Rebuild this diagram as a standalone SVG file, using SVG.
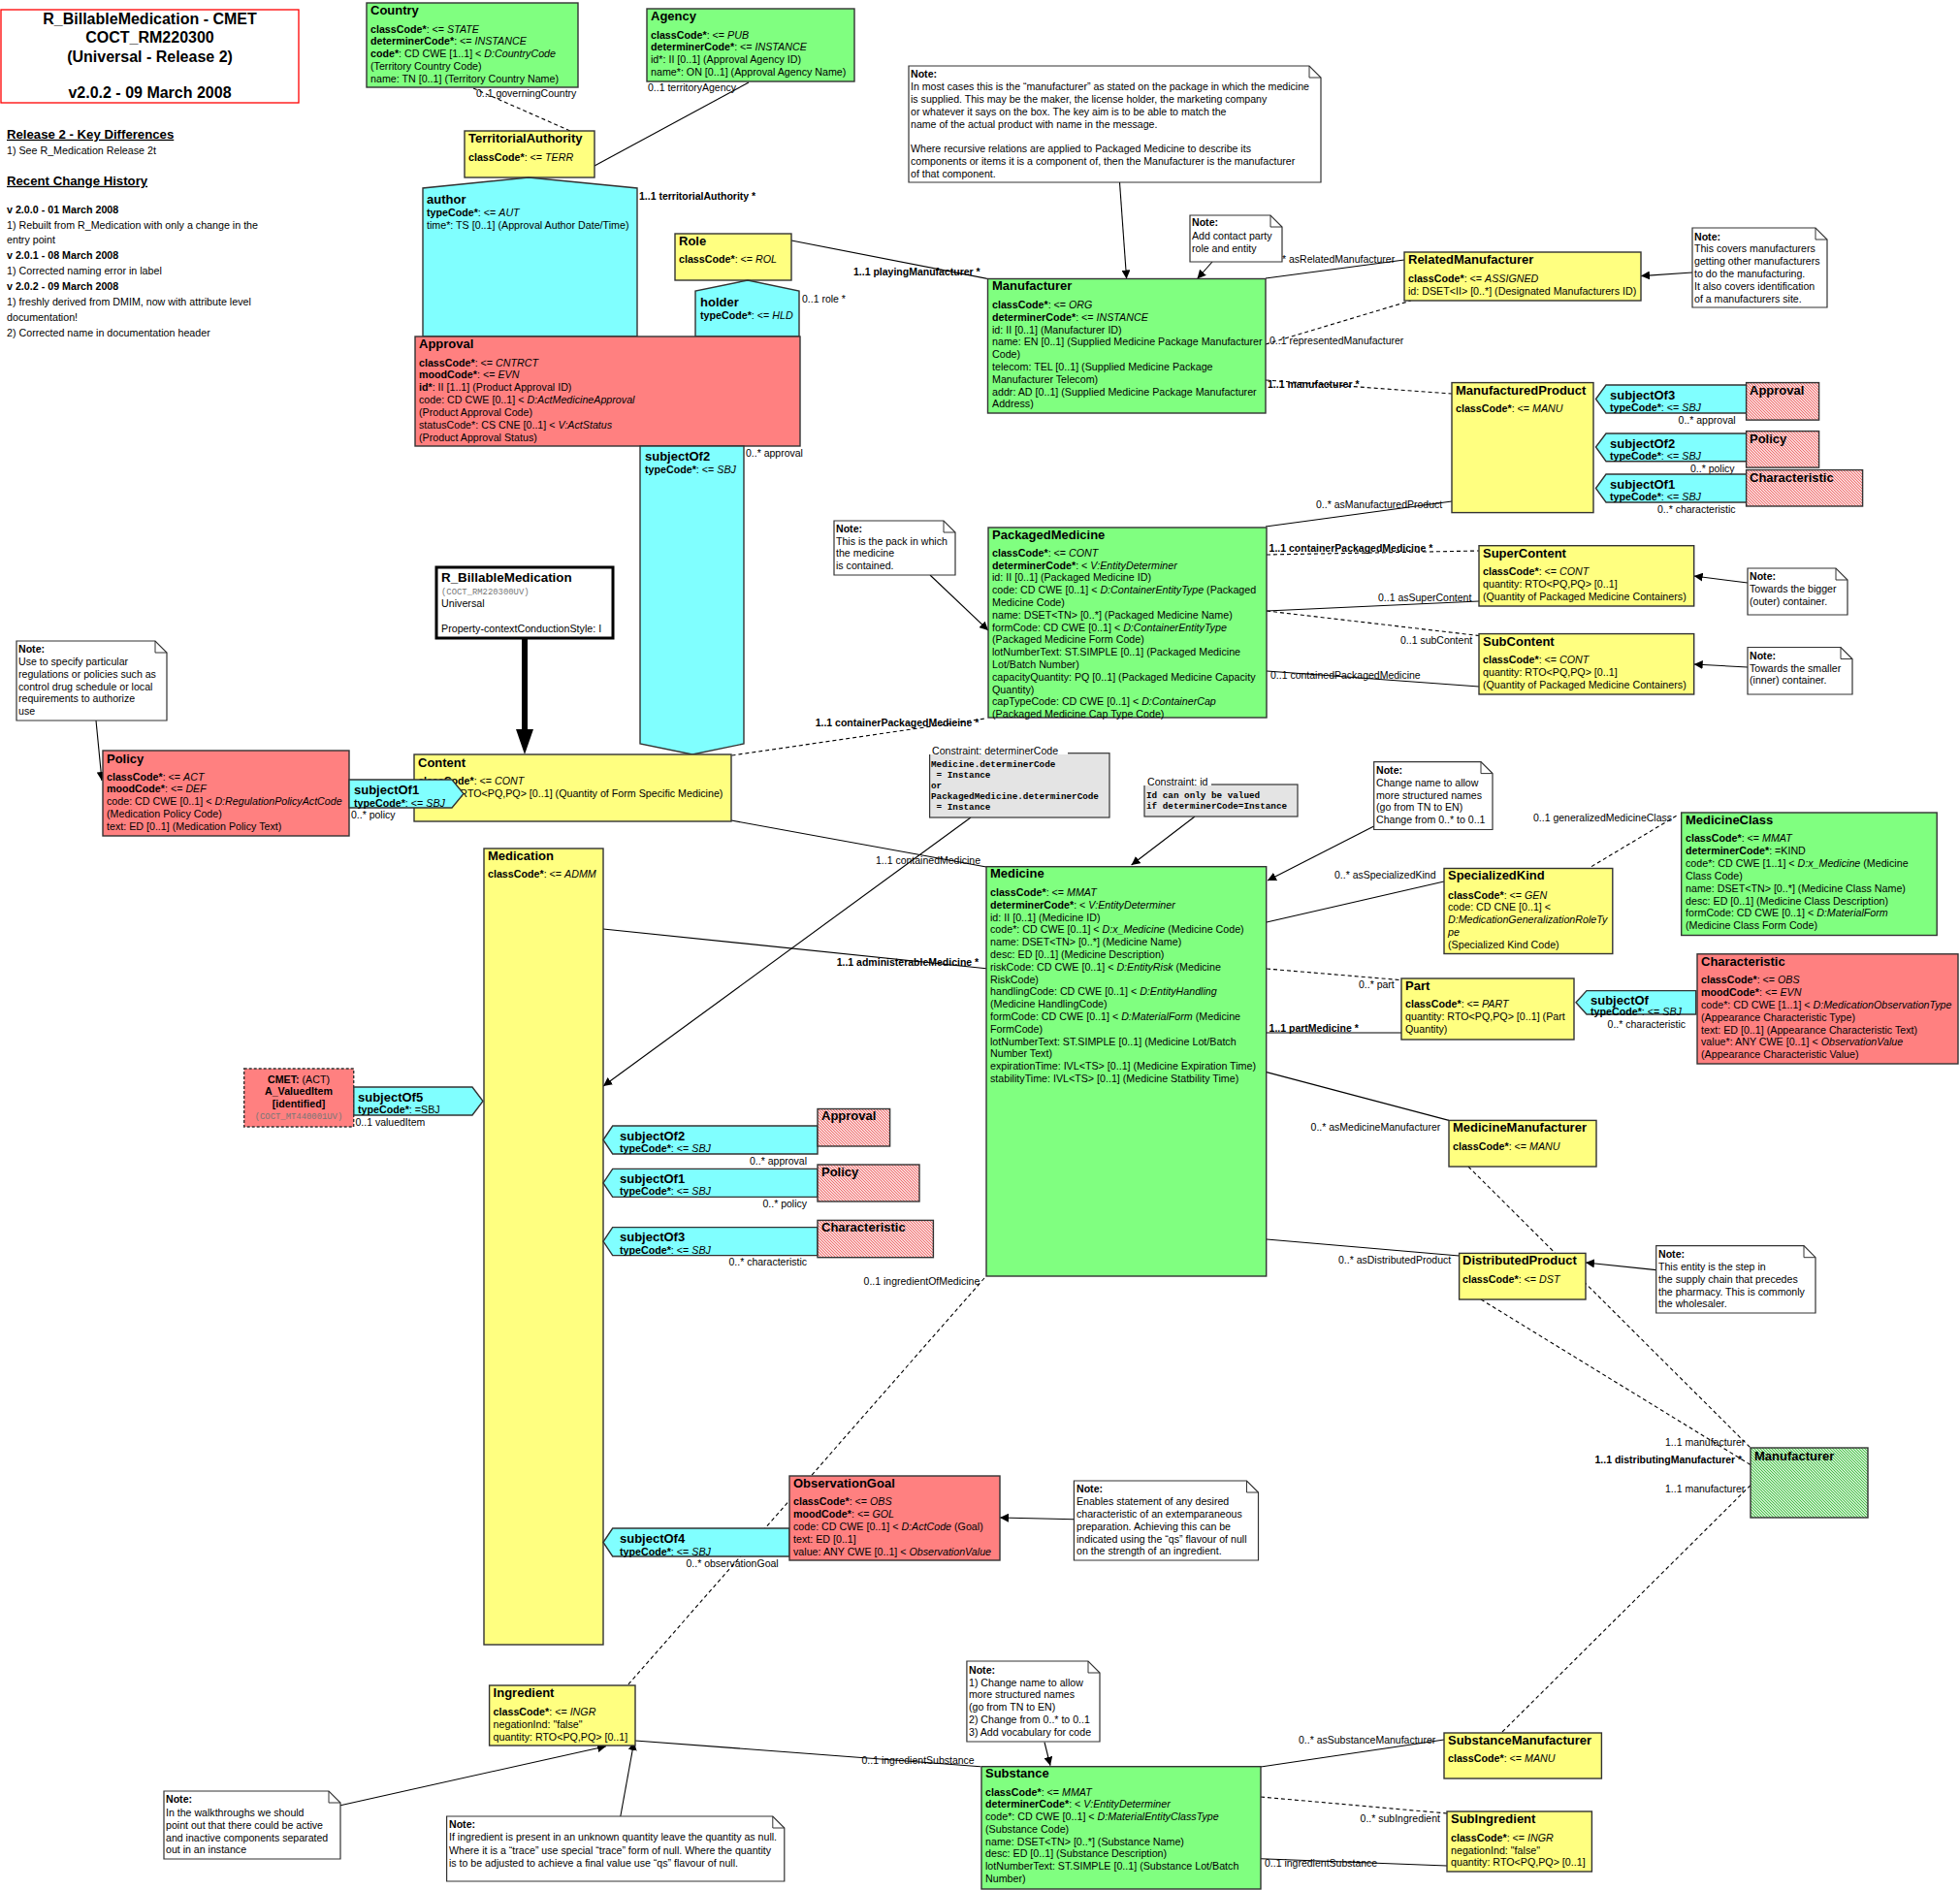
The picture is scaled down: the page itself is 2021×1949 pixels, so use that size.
<svg xmlns="http://www.w3.org/2000/svg" width="2021" height="1949" viewBox="0 0 2021 1949">
<style>
text{font-family:"Liberation Sans",Arial,sans-serif;fill:#000}
.a{font-size:10.7px}
.h{font-size:13px;font-weight:bold}
.b{font-weight:bold}
.i{font-style:italic}
.n{font-size:10.6px}
.hx{font-size:10.7px}
.hd{font-size:13.2px;font-weight:bold;text-decoration:underline}
.l{font-size:10.5px}
.lb{font-size:10.5px;font-weight:bold}
.m{font-family:"Liberation Mono","Courier New",monospace;font-size:9.3px;font-weight:bold}
.sm{font-family:"Liberation Mono","Courier New",monospace;font-size:8.9px;fill:#777}
.box{stroke:#333;stroke-width:1.4}
.g{fill:#80FF80}.y{fill:#FFFF80}.c{fill:#80FFFF}.r{fill:#FF8080}
.hr{fill:url(#hatchR)}.hg{fill:url(#hatchG)}
.note{fill:#fff;stroke:#333;stroke-width:1.2}
.con{fill:#e4e4e4;stroke:#333;stroke-width:1.2}
.ln{stroke:#000;stroke-width:1.1;fill:none}
.dl{stroke:#000;stroke-width:1.1;fill:none;stroke-dasharray:4,3}
.ar{stroke:#000;stroke-width:1.1;fill:none;marker-end:url(#arr)}
</style>
<defs>
<marker id="arr" viewBox="0 0 10 10" refX="10" refY="5" markerWidth="9" markerHeight="9" markerUnits="userSpaceOnUse" orient="auto"><path d="M0,0 L10,5 L0,10 Z" fill="#000"/></marker>
<pattern id="hatchR" patternUnits="userSpaceOnUse" width="3" height="3"><rect width="3" height="3" fill="#fff"/><path d="M-1,-1 L4,4 M-1,2 L1,4 M2,-1 L4,1" stroke="#F06A6A" stroke-width="1.1"/></pattern>
<pattern id="hatchG" patternUnits="userSpaceOnUse" width="3" height="3"><rect width="3" height="3" fill="#fff"/><path d="M-1,-1 L4,4 M-1,2 L1,4 M2,-1 L4,1" stroke="#40C040" stroke-width="1.1"/></pattern>
</defs>
<rect width="2021" height="1949" fill="#fff"/>

<g id="header">
<rect x="1" y="10" width="307" height="96" fill="#fff" stroke="#f00" stroke-width="1.3"/>
<text x="154.5" y="24.7" text-anchor="middle" style="font-size:16px;font-weight:bold">R_BillableMedication - CMET</text>
<text x="154.5" y="43.7" text-anchor="middle" style="font-size:16px;font-weight:bold">COCT_RM220300</text>
<text x="154.5" y="63.5" text-anchor="middle" style="font-size:16px;font-weight:bold">(Universal - Release 2)</text>
<text x="154.5" y="101" text-anchor="middle" style="font-size:16px;font-weight:bold">v2.0.2 - 09 March 2008</text>
<text class="hd" x="7" y="142.8">Release 2 - Key Differences</text>
<text class="hx" x="7" y="158.8">1) See R_Medication Release 2t</text>
<text class="hd" x="7" y="190.8">Recent Change History</text>
<text class="hx b" x="7" y="219.8">v 2.0.0 - 01 March 2008</text>
<text class="hx" x="7" y="235.8">1) Rebuilt from R_Medication with only a change in the</text>
<text class="hx" x="7" y="250.8">entry point</text>
<text class="hx b" x="7" y="266.8">v 2.0.1 - 08 March 2008</text>
<text class="hx" x="7" y="282.8">1) Corrected naming error in label</text>
<text class="hx b" x="7" y="298.8">v 2.0.2 - 09 March 2008</text>
<text class="hx" x="7" y="314.8">1) freshly derived from DMIM, now with attribute level</text>
<text class="hx" x="7" y="330.8">documentation!</text>
<text class="hx" x="7" y="346.8">2) Corrected name in documentation header</text>
</g>

<g id="connectors">
<line class="dl" x1="488" y1="91" x2="588" y2="135"/>
<line class="ln" x1="772" y1="85" x2="613" y2="171"/>
<line class="ln" x1="816" y1="248" x2="1018.7" y2="287.5"/>
<line class="ln" x1="1305" y1="287" x2="1448" y2="268"/>
<line class="dl" x1="1305" y1="355" x2="1455" y2="310"/>
<line class="dl" x1="1305" y1="392" x2="1497" y2="406"/>
<line class="ln" x1="1305" y1="543" x2="1497" y2="517"/>
<line class="dl" x1="1306" y1="572" x2="1525" y2="568"/>
<line class="ln" x1="1306" y1="630" x2="1525" y2="620"/>
<line class="dl" x1="1306" y1="630" x2="1525" y2="655.5"/>
<line class="ln" x1="1306" y1="692" x2="1525" y2="708"/>
<line class="dl" x1="754.5" y1="779" x2="1017.7" y2="740.7"/>
<line class="ln" x1="754" y1="846" x2="1017" y2="894"/>
<line class="ln" x1="622" y1="958" x2="1017" y2="998.7"/>
<line class="ln" x1="1306" y1="951" x2="1489" y2="909"/>
<line class="dl" x1="1641" y1="893.6" x2="1729" y2="841"/>
<line class="dl" x1="1306" y1="999" x2="1445" y2="1010.7"/>
<line class="ln" x1="1306" y1="1065" x2="1445" y2="1065"/>
<line class="ln" x1="1306" y1="1105.6" x2="1494" y2="1155.4"/>
<line class="ln" x1="1306" y1="1278" x2="1504.6" y2="1295"/>
<line class="dl" x1="1514" y1="1203" x2="1805" y2="1493"/>
<line class="dl" x1="1527" y1="1340" x2="1805" y2="1510.5"/>
<line class="dl" x1="1549" y1="1786" x2="1805" y2="1531.6"/>
<line class="dl" x1="1015" y1="1318" x2="647" y2="1738"/>
<line class="ln" x1="655" y1="1795" x2="1011" y2="1821.7"/>
<line class="ln" x1="1300" y1="1822" x2="1489" y2="1794"/>
<line class="dl" x1="1300" y1="1853" x2="1492" y2="1870"/>
<line class="ln" x1="1300" y1="1916.7" x2="1492" y2="1924"/>
<line class="ar" x1="99" y1="743" x2="105" y2="805"/>
<line class="ar" x1="959" y1="593" x2="1019" y2="650"/>
<line class="ar" x1="1154.5" y1="188" x2="1161.6" y2="287.5"/>
<line class="ar" x1="1250" y1="270" x2="1234.5" y2="287.5"/>
<line class="ar" x1="1745" y1="281" x2="1692" y2="284.6"/>
<line class="ar" x1="1802" y1="601" x2="1746.7" y2="594"/>
<line class="ar" x1="1802" y1="688" x2="1746.7" y2="685"/>
<line class="ar" x1="1232" y1="842" x2="1166.6" y2="892"/>
<line class="ar" x1="1416.7" y1="852" x2="1307" y2="908"/>
<line class="ar" x1="1707.7" y1="1309.6" x2="1635" y2="1302"/>
<line class="ar" x1="1107.4" y1="1566.8" x2="1031" y2="1565"/>
<line class="ar" x1="351" y1="1861.7" x2="625" y2="1800.7"/>
<line class="ar" x1="639.8" y1="1873" x2="653.8" y2="1796"/>
<line class="ar" x1="1077" y1="1796.7" x2="1083" y2="1820.7"/>
<line class="ar" x1="1001" y1="843" x2="622" y2="1120"/>
<line x1="541" y1="658" x2="541" y2="753" stroke="#000" stroke-width="6"/>
<polygon points="532,752 550,752 541,778" fill="#000"/>
<text class="l" x="491" y="100.3">0..1 governingCountry</text>
<text class="l" x="668" y="93.6">0..1 territoryAgency</text>
<text class="lb" x="659" y="205.6">1..1 territorialAuthority  *</text>
<text class="lb" x="880" y="283.6">1..1 playingManufacturer  *</text>
<text class="l" x="827" y="311.6">0..1 role  *</text>
<text class="l" x="769" y="470.6">0..* approval</text>
<text class="l" x="1322" y="270.6">* asRelatedManufacturer</text>
<text class="l" x="1309" y="354.6">0..1 representedManufacturer</text>
<text class="lb" x="1307" y="399.6">1..1 manufacturer  *</text>
<text class="l" x="1357" y="523.6">0..* asManufacturedProduct</text>
<text class="lb" x="1308.6" y="569.2">1..1 containerPackagedMedicine  *</text>
<text class="l" x="1421" y="619.6">0..1 asSuperContent</text>
<text class="l" x="1444" y="663.6">0..1 subContent</text>
<text class="l" x="1310" y="700">0..1 containedPackagedMedicine</text>
<text class="lb" x="840.7" y="749.3">1..1 containerPackagedMedicine  *</text>
<text class="l" x="903" y="890.6">1..1 containedMedicine</text>
<text class="lb" x="862.7" y="995.6">1..1 administerableMedicine  *</text>
<text class="l" x="1376" y="905.6">0..* asSpecializedKind</text>
<text class="l" x="1581" y="847">0..1 generalizedMedicineClass</text>
<text class="l" x="1401" y="1019">0..* part</text>
<text class="lb" x="1308.6" y="1063.6">1..1 partMedicine  *</text>
<text class="l" x="1351.6" y="1165.6">0..* asMedicineManufacturer</text>
<text class="l" x="1380" y="1302.6">0..* asDistributedProduct</text>
<text class="l" x="1717" y="1490.6">1..1 manufacturer</text>
<text class="lb" x="1644.5" y="1508.6">1..1 distributingManufacturer  *</text>
<text class="l" x="1717" y="1539">1..1 manufacturer</text>
<text class="l" x="890.6" y="1324.6">0..1 ingredientOfMedicine</text>
<text class="l" x="888.5" y="1819.3">0..1 ingredientSubstance</text>
<text class="l" x="1339" y="1797.6">0..* asSubstanceManufacturer</text>
<text class="l" x="1402.6" y="1878.6">0..* subIngredient</text>
<text class="l" x="1304" y="1924.6">0..1 ingredientSubstance</text>
<text class="l" x="362" y="843.6">0..* policy</text>
<text class="l" x="366.5" y="1160.6">0..1 valuedItem</text>
<text class="l" x="832" y="1200.6" text-anchor="end">0..* approval</text>
<text class="l" x="832" y="1244.6" text-anchor="end">0..* policy</text>
<text class="l" x="832" y="1305.4" text-anchor="end">0..* characteristic</text>
<text class="l" x="707.5" y="1615.6">0..* observationGoal</text>
<text class="l" x="1730.6" y="436.6">0..* approval</text>
<text class="l" x="1743" y="486.6">0..* policy</text>
<text class="l" x="1709" y="528.6">0..* characteristic</text>
<text class="l" x="1657.6" y="1059.6">0..* characteristic</text>
</g>

<g id="n-country">
<rect class="box g" x="378" y="3" width="218" height="87"/>
<text class="h" x="382" y="14.5">Country</text>
<text class="a" x="382" y="33.5"><tspan class="b">classCode*</tspan>: &lt;= <tspan class="i">STATE</tspan></text>
<text class="a" x="382" y="46.3"><tspan class="b">determinerCode*</tspan>: &lt;= <tspan class="i">INSTANCE</tspan></text>
<text class="a" x="382" y="59.2"><tspan class="b">code*</tspan>: CD CWE [1..1] &lt; <tspan class="i">D:CountryCode</tspan></text>
<text class="a" x="382" y="72">(Territory Country Code)</text>
<text class="a" x="382" y="84.9">name: TN [0..1] (Territory Country Name)</text>
</g>

<g id="n-agency">
<rect class="box g" x="667" y="9" width="214" height="75"/>
<text class="h" x="671" y="21">Agency</text>
<text class="a" x="671" y="39.5"><tspan class="b">classCode*</tspan>: &lt;= <tspan class="i">PUB</tspan></text>
<text class="a" x="671" y="52.3"><tspan class="b">determinerCode*</tspan>: &lt;= <tspan class="i">INSTANCE</tspan></text>
<text class="a" x="671" y="65.2">id*: II [0..1] (Approval Agency ID)</text>
<text class="a" x="671" y="78">name*: ON [0..1] (Approval Agency Name)</text>
</g>

<g id="n-territorialauthority">
<rect class="box y" x="479" y="135" width="134" height="48"/>
<text class="h" x="483" y="147">TerritorialAuthority</text>
<text class="a" x="483" y="166"><tspan class="b">classCode*</tspan>: &lt;= <tspan class="i">TERR</tspan></text>
</g>

<g id="n-author">
<polygon class="box c" points="436,347 436,194 545,183 657,194 657,347"/>
<text class="h" x="440" y="209.5">author</text>
<text class="a" x="440" y="223"><tspan class="b">typeCode*</tspan>: &lt;= <tspan class="i">AUT</tspan></text>
<text class="a" x="440" y="236">time*: TS [0..1] (Approval Author Date/Time)</text>
</g>

<g id="n-role">
<rect class="box y" x="696" y="241" width="120" height="48"/>
<text class="h" x="700" y="253">Role</text>
<text class="a" x="700" y="271"><tspan class="b">classCode*</tspan>: &lt;= <tspan class="i">ROL</tspan></text>
</g>

<g id="n-holder">
<polygon class="box c" points="717,347 717,300 771,289 824,300 824,347"/>
<text class="h" x="722" y="315.5">holder</text>
<text class="a" x="722" y="329"><tspan class="b">typeCode*</tspan>: &lt;= <tspan class="i">HLD</tspan></text>
</g>

<g id="n-approval">
<rect class="box r" x="428" y="347" width="397" height="113"/>
<text class="h" x="432" y="358.5">Approval</text>
<text class="a" x="432" y="377.5"><tspan class="b">classCode*</tspan>: &lt;= <tspan class="i">CNTRCT</tspan></text>
<text class="a" x="432" y="390.3"><tspan class="b">moodCode*</tspan>: &lt;= <tspan class="i">EVN</tspan></text>
<text class="a" x="432" y="403.2"><tspan class="b">id*</tspan>: II [1..1] (Product Approval ID)</text>
<text class="a" x="432" y="416">code: CD CWE [0..1] &lt; <tspan class="i">D:ActMedicineApproval</tspan></text>
<text class="a" x="432" y="428.9"> (Product Approval Code)</text>
<text class="a" x="432" y="441.8">statusCode*: CS CNE [0..1] &lt; <tspan class="i">V:ActStatus</tspan></text>
<text class="a" x="432" y="454.6"> (Product Approval Status)</text>
</g>

<g id="n-subjectof2-approval">
<polygon class="box c" points="660,460 767,460 767,767 714,778 660,767"/>
<text class="h" x="665" y="474.5">subjectOf2</text>
<text class="a" x="665" y="488"><tspan class="b">typeCode*</tspan>: &lt;= <tspan class="i">SBJ</tspan></text>
</g>

<g id="n-entry">
<rect x="450" y="585" width="182" height="73" fill="#fff" stroke="#000" stroke-width="3"/>
<text class="h" x="455" y="599.5" style="font-size:13.4px">R_BillableMedication</text>
<text class="sm" x="455" y="612.5">(COCT_RM220300UV)</text>
<text class="a" x="455" y="626">Universal</text>
<text class="a" x="455" y="652">Property-contextConductionStyle: I</text>
</g>

<g id="n-content">
<rect class="box y" x="427" y="778" width="327" height="69"/>
<text class="h" x="431" y="790.5">Content</text>
<text class="a" x="431" y="809"><tspan class="b">classCode*</tspan>: &lt;= <tspan class="i">CONT</tspan></text>
<text class="a" x="431" y="822">quantity: RTO&lt;PQ,PQ&gt; [0..1] (Quantity of Form Specific Medicine)</text>
</g>

<g id="n-policy">
<rect class="box r" x="106" y="774" width="254" height="88"/>
<text class="h" x="110" y="786.5">Policy</text>
<text class="a" x="110" y="804.5"><tspan class="b">classCode*</tspan>: &lt;= <tspan class="i">ACT</tspan></text>
<text class="a" x="110" y="817.4"><tspan class="b">moodCode*</tspan>: &lt;= <tspan class="i">DEF</tspan></text>
<text class="a" x="110" y="830.2">code: CD CWE [0..1] &lt; <tspan class="i">D:RegulationPolicyActCode</tspan></text>
<text class="a" x="110" y="843"> (Medication Policy Code)</text>
<text class="a" x="110" y="855.9">text: ED [0..1] (Medication Policy Text)</text>
</g>

<g id="n-subjectof1-policy">
<polygon class="box c" points="360,804 466,804 478,818.5 466,833 360,833"/>
<text class="h" x="365" y="818.5">subjectOf1</text>
<text class="a" x="365" y="832"><tspan class="b">typeCode*</tspan>: &lt;= <tspan class="i">SBJ</tspan></text>
</g>

<g id="note-policy">
<path class="note" d="M17,661 H160 L172,673 V743 H17 Z"/>
<path d="M160,661 V673 H172" fill="none" stroke="#333" stroke-width="1"/>
<text class="n b" x="19" y="672.6">Note:</text>
<text class="n" x="19" y="685.6">Use to specify particular</text>
<text class="n" x="19" y="698.6">regulations or policies such as</text>
<text class="n" x="19" y="711.6">control drug schedule or local</text>
<text class="n" x="19" y="723.6">requirements to authorize</text>
<text class="n" x="19" y="736.6">use</text>
</g>

<g id="note-pack">
<path class="note" d="M860,537 H973 L985,549 V593 H860 Z"/>
<path d="M973,537 V549 H985" fill="none" stroke="#333" stroke-width="1"/>
<text class="n b" x="862" y="548.6">Note:</text>
<text class="n" x="862" y="561.6">This is the pack in which</text>
<text class="n" x="862" y="573.6">the medicine</text>
<text class="n" x="862" y="586.6">is contained.</text>
</g>

<g id="n-packagedmedicine">
<rect class="box g" x="1019" y="544" width="287" height="196"/>
<text class="h" x="1023" y="555.5">PackagedMedicine</text>
<text class="a" x="1023" y="573.8"><tspan class="b">classCode*</tspan>: &lt;= <tspan class="i">CONT</tspan></text>
<text class="a" x="1023" y="586.6"><tspan class="b">determinerCode*</tspan>: &lt; <tspan class="i">V:EntityDeterminer</tspan></text>
<text class="a" x="1023" y="599.4">id: II [0..1] (Packaged Medicine ID)</text>
<text class="a" x="1023" y="612.2">code: CD CWE [0..1] &lt; <tspan class="i">D:ContainerEntityType</tspan> (Packaged</text>
<text class="a" x="1023" y="625">Medicine Code)</text>
<text class="a" x="1023" y="637.8">name: DSET&lt;TN&gt; [0..*] (Packaged Medicine Name)</text>
<text class="a" x="1023" y="650.6">formCode: CD CWE [0..1] &lt; <tspan class="i">D:ContainerEntityType</tspan></text>
<text class="a" x="1023" y="663.4"> (Packaged Medicine Form Code)</text>
<text class="a" x="1023" y="676.2">lotNumberText: ST.SIMPLE [0..1] (Packaged Medicine</text>
<text class="a" x="1023" y="689">Lot/Batch Number)</text>
<text class="a" x="1023" y="701.8">capacityQuantity: PQ [0..1] (Packaged Medicine Capacity</text>
<text class="a" x="1023" y="714.6">Quantity)</text>
<text class="a" x="1023" y="727.4">capTypeCode: CD CWE [0..1] &lt; <tspan class="i">D:ContainerCap</tspan></text>
<text class="a" x="1023" y="740.2"> (Packaged Medicine Cap Type Code)</text>
</g>

<g id="n-manufacturer">
<rect class="box g" x="1018.5" y="287.5" width="286.5" height="138.5"/>
<text class="h" x="1023" y="299">Manufacturer</text>
<text class="a" x="1023" y="318"><tspan class="b">classCode*</tspan>: &lt;= <tspan class="i">ORG</tspan></text>
<text class="a" x="1023" y="330.8"><tspan class="b">determinerCode*</tspan>: &lt;= <tspan class="i">INSTANCE</tspan></text>
<text class="a" x="1023" y="343.6">id: II [0..1] (Manufacturer ID)</text>
<text class="a" x="1023" y="356.4">name: EN [0..1] (Supplied Medicine Package Manufacturer</text>
<text class="a" x="1023" y="369.2">Code)</text>
<text class="a" x="1023" y="382">telecom: TEL [0..1] (Supplied Medicine Package</text>
<text class="a" x="1023" y="394.8">Manufacturer Telecom)</text>
<text class="a" x="1023" y="407.6">addr: AD [0..1] (Supplied Medicine Package Manufacturer</text>
<text class="a" x="1023" y="420.4">Address)</text>
</g>

<g id="note-manufacturer">
<path class="note" d="M937,68 H1350 L1362,80 V188 H937 Z"/>
<path d="M1350,68 V80 H1362" fill="none" stroke="#333" stroke-width="1"/>
<text class="n b" x="939" y="79.6">Note:</text>
<text class="n" x="939" y="92.6">In most cases this is the “manufacturer” as  stated on the package in which the medicine</text>
<text class="n" x="939" y="106">is supplied.  This may be the maker, the license holder, the marketing company</text>
<text class="n" x="939" y="118.6">or whatever it says on the box.  The key aim is to be able to match the</text>
<text class="n" x="939" y="131.6">name of the actual product with name in the message.</text>
<text class="n" x="939" y="157">Where recursive relations are applied to Packaged Medicine to describe its</text>
<text class="n" x="939" y="169.6">components or items it is a component of, then the Manufacturer is the manufacturer</text>
<text class="n" x="939" y="182.6">of that component.</text>
</g>

<g id="note-contact">
<path class="note" d="M1227,222 H1310 L1322,234 V270 H1227 Z"/>
<path d="M1310,222 V234 H1322" fill="none" stroke="#333" stroke-width="1"/>
<text class="n b" x="1229" y="233">Note:</text>
<text class="n" x="1229" y="246.6">Add contact party</text>
<text class="n" x="1229" y="259.6">role and entity</text>
</g>

<g id="n-relatedmanufacturer">
<rect class="box y" x="1448" y="260" width="244" height="50"/>
<text class="h" x="1452" y="271.5">RelatedManufacturer</text>
<text class="a" x="1452" y="291"><tspan class="b">classCode*</tspan>: &lt;= <tspan class="i">ASSIGNED</tspan></text>
<text class="a" x="1452" y="303.5">id: DSET&lt;II&gt; [0..*] (Designated Manufacturers ID)</text>
</g>

<g id="note-related">
<path class="note" d="M1745,235 H1872 L1884,247 V317 H1745 Z"/>
<path d="M1872,235 V247 H1884" fill="none" stroke="#333" stroke-width="1"/>
<text class="n b" x="1747" y="247.6">Note:</text>
<text class="n" x="1747" y="260">This covers manufacturers</text>
<text class="n" x="1747" y="272.6">getting other manufacturers</text>
<text class="n" x="1747" y="285.6">to do the manufacturing.</text>
<text class="n" x="1747" y="298.6">It also covers identification</text>
<text class="n" x="1747" y="311.6">of a manufacturers site.</text>
</g>

<g id="n-manufacturedproduct">
<rect class="box y" x="1497" y="394.6" width="146" height="134"/>
<text class="h" x="1501" y="406.5">ManufacturedProduct</text>
<text class="a" x="1501" y="425"><tspan class="b">classCode*</tspan>: &lt;= <tspan class="i">MANU</tspan></text>
</g>

<g id="n-mp-subjectof3">
<polygon class="box c" points="1645.5,411.5 1656,397 1801,397 1801,426 1656,426"/>
<text class="h" x="1660" y="411.5">subjectOf3</text>
<text class="a" x="1660" y="424"><tspan class="b">typeCode*</tspan>: &lt;= <tspan class="i">SBJ</tspan></text>
</g>
<g id="n-mp-approval">
<rect class="box hr" x="1800.6" y="394.6" width="75" height="38.5"/>
<text class="h" x="1804" y="406.5">Approval</text>
</g>
<g id="n-mp-subjectof2">
<polygon class="box c" points="1645.5,461 1656,447 1801,447 1801,475.7 1656,475.7"/>
<text class="h" x="1660" y="461.5">subjectOf2</text>
<text class="a" x="1660" y="474"><tspan class="b">typeCode*</tspan>: &lt;= <tspan class="i">SBJ</tspan></text>
</g>
<g id="n-mp-policy">
<rect class="box hr" x="1800.6" y="444.6" width="75" height="37.5"/>
<text class="h" x="1804" y="456.5">Policy</text>
</g>
<g id="n-mp-subjectof1">
<polygon class="box c" points="1645.5,503.5 1656,489 1801,489 1801,518 1656,518"/>
<text class="h" x="1660" y="503.5">subjectOf1</text>
<text class="a" x="1660" y="516.3"><tspan class="b">typeCode*</tspan>: &lt;= <tspan class="i">SBJ</tspan></text>
</g>
<g id="n-mp-characteristic">
<rect class="box hr" x="1800.6" y="484.6" width="120" height="37.4"/>
<text class="h" x="1804" y="496.5">Characteristic</text>
</g>

<g id="n-supercontent">
<rect class="box y" x="1525" y="562.7" width="221.7" height="62.3"/>
<text class="h" x="1529" y="574.5">SuperContent</text>
<text class="a" x="1529" y="593"><tspan class="b">classCode*</tspan>: &lt;= <tspan class="i">CONT</tspan></text>
<text class="a" x="1529" y="606">quantity: RTO&lt;PQ,PQ&gt; [0..1]</text>
<text class="a" x="1529" y="619"> (Quantity of Packaged Medicine Containers)</text>
</g>

<g id="n-subcontent">
<rect class="box y" x="1525" y="653.6" width="221.7" height="62.4"/>
<text class="h" x="1529" y="665.5">SubContent</text>
<text class="a" x="1529" y="684"><tspan class="b">classCode*</tspan>: &lt;= <tspan class="i">CONT</tspan></text>
<text class="a" x="1529" y="697">quantity: RTO&lt;PQ,PQ&gt; [0..1]</text>
<text class="a" x="1529" y="710"> (Quantity of Packaged Medicine Containers)</text>
</g>

<g id="note-bigger">
<path class="note" d="M1802,586 H1893 L1905,598 V634 H1802 Z"/>
<path d="M1893,586 V598 H1905" fill="none" stroke="#333" stroke-width="1"/>
<text class="n b" x="1804" y="597.6">Note:</text>
<text class="n" x="1804" y="610.6">Towards the bigger</text>
<text class="n" x="1804" y="623.6">(outer) container.</text>
</g>

<g id="note-smaller">
<path class="note" d="M1802,667.5 H1898 L1910,679.5 V716 H1802 Z"/>
<path d="M1898,667.5 V679.5 H1910" fill="none" stroke="#333" stroke-width="1"/>
<text class="n b" x="1804" y="679.6">Note:</text>
<text class="n" x="1804" y="692.6">Towards the smaller</text>
<text class="n" x="1804" y="705">(inner) container.</text>
</g>

<g id="constraint-determiner">
<rect class="con" x="958.6" y="776.7" width="185.4" height="66.3"/>
<rect x="957" y="768" width="144" height="10" fill="#fff"/>
<text class="n" x="961" y="778">Constraint: determinerCode</text>
<text class="m" x="960" y="790.7">Medicine.determinerCode</text>
<text class="m" x="960" y="802" xml:space="preserve"> = Instance</text>
<text class="m" x="960" y="813">or</text>
<text class="m" x="960" y="824">PackagedMedicine.determinerCode</text>
<text class="m" x="960" y="835" xml:space="preserve"> = Instance</text>
</g>

<g id="constraint-id">
<rect class="con" x="1180" y="809" width="158" height="33"/>
<rect x="1179" y="800" width="70" height="10" fill="#fff"/>
<text class="n" x="1183" y="810">Constraint: id</text>
<text class="m" x="1182" y="823">Id can only be valued</text>
<text class="m" x="1182" y="834">if determinerCode=Instance</text>
</g>

<g id="n-medicine">
<rect class="box g" x="1017" y="893.7" width="288.7" height="422.3"/>
<text class="h" x="1021" y="905">Medicine</text>
<text class="a" x="1021" y="924"><tspan class="b">classCode*</tspan>: &lt;= <tspan class="i">MMAT</tspan></text>
<text class="a" x="1021" y="936.8"><tspan class="b">determinerCode*</tspan>: &lt; <tspan class="i">V:EntityDeterminer</tspan></text>
<text class="a" x="1021" y="949.6">id: II [0..1] (Medicine ID)</text>
<text class="a" x="1021" y="962.4">code*: CD CWE [0..1] &lt; <tspan class="i">D:x_Medicine</tspan> (Medicine Code)</text>
<text class="a" x="1021" y="975.2">name: DSET&lt;TN&gt; [0..*] (Medicine Name)</text>
<text class="a" x="1021" y="988">desc: ED [0..1] (Medicine Description)</text>
<text class="a" x="1021" y="1000.8">riskCode: CD CWE [0..1] &lt; <tspan class="i">D:EntityRisk</tspan> (Medicine</text>
<text class="a" x="1021" y="1013.6">RiskCode)</text>
<text class="a" x="1021" y="1026.4">handlingCode: CD CWE [0..1] &lt; <tspan class="i">D:EntityHandling</tspan></text>
<text class="a" x="1021" y="1039.2">(Medicine HandlingCode)</text>
<text class="a" x="1021" y="1052">formCode: CD CWE [0..1] &lt; <tspan class="i">D:MaterialForm</tspan> (Medicine</text>
<text class="a" x="1021" y="1064.8">FormCode)</text>
<text class="a" x="1021" y="1077.6">lotNumberText: ST.SIMPLE [0..1] (Medicine Lot/Batch</text>
<text class="a" x="1021" y="1090.4">Number Text)</text>
<text class="a" x="1021" y="1103.2">expirationTime: IVL&lt;TS&gt; [0..1] (Medicine Expiration Time)</text>
<text class="a" x="1021" y="1116">stabilityTime: IVL&lt;TS&gt; [0..1] (Medicine Statbility Time)</text>
</g>

<g id="note-changename">
<path class="note" d="M1416.7,785.6 H1527 L1539,797.6 V855.5 H1416.7 Z"/>
<path d="M1527,785.6 V797.6 H1539" fill="none" stroke="#333" stroke-width="1"/>
<text class="n b" x="1419" y="797.6">Note:</text>
<text class="n" x="1419" y="811">Change name to allow</text>
<text class="n" x="1419" y="823.6">more structured names</text>
<text class="n" x="1419" y="836">(go from TN to EN)</text>
<text class="n" x="1419" y="849">Change from 0..* to 0..1</text>
</g>

<g id="n-specializedkind">
<rect class="box y" x="1489" y="895.5" width="173.8" height="88"/>
<text class="h" x="1493" y="907">SpecializedKind</text>
<text class="a" x="1493" y="926.5"><tspan class="b">classCode*</tspan>: &lt;= <tspan class="i">GEN</tspan></text>
<text class="a" x="1493" y="939.3">code: CD CNE [0..1] &lt;</text>
<text class="a i" x="1493" y="952">D:MedicationGeneralizationRoleTy</text>
<text class="a i" x="1493" y="965">pe</text>
<text class="a" x="1493" y="977.6"> (Specialized Kind Code)</text>
</g>

<g id="n-medicineclass">
<rect class="box g" x="1733.7" y="838" width="263.5" height="126.5"/>
<text class="h" x="1738" y="850">MedicineClass</text>
<text class="a" x="1738" y="868.3"><tspan class="b">classCode*</tspan>: &lt;= <tspan class="i">MMAT</tspan></text>
<text class="a" x="1738" y="881.2"><tspan class="b">determinerCode*</tspan>: =KIND</text>
<text class="a" x="1738" y="894">code*: CD CWE [1..1] &lt; <tspan class="i">D:x_Medicine</tspan> (Medicine</text>
<text class="a" x="1738" y="906.9">Class Code)</text>
<text class="a" x="1738" y="919.7">name: DSET&lt;TN&gt; [0..*] (Medicine Class Name)</text>
<text class="a" x="1738" y="932.6">desc: ED [0..1] (Medicine Class Description)</text>
<text class="a" x="1738" y="945.4">formCode: CD CWE [0..1] &lt; <tspan class="i">D:MaterialForm</tspan></text>
<text class="a" x="1738" y="958.3"> (Medicine Class Form Code)</text>
</g>

<g id="n-part">
<rect class="box y" x="1445" y="1009" width="178" height="63"/>
<text class="h" x="1449" y="1020.5">Part</text>
<text class="a" x="1449" y="1039.3"><tspan class="b">classCode*</tspan>: &lt;= <tspan class="i">PART</tspan></text>
<text class="a" x="1449" y="1052.3">quantity: RTO&lt;PQ,PQ&gt; [0..1] (Part</text>
<text class="a" x="1449" y="1065.4">Quantity)</text>
</g>

<g id="n-part-subjectof">
<polygon class="box c" points="1625,1033.8 1636,1021.6 1748.7,1021.6 1748.7,1046 1636,1046"/>
<text class="h" x="1640" y="1035.5">subjectOf</text>
<text class="a" x="1640" y="1047.3"><tspan class="b">typeCode*</tspan>: &lt;= <tspan class="i">SBJ</tspan></text>
</g>

<g id="n-characteristic">
<rect class="box r" x="1750" y="983.8" width="269" height="113.2"/>
<text class="h" x="1754" y="995.5">Characteristic</text>
<text class="a" x="1754" y="1014"><tspan class="b">classCode*</tspan>: &lt;= <tspan class="i">OBS</tspan></text>
<text class="a" x="1754" y="1027"><tspan class="b">moodCode*</tspan>: &lt;= <tspan class="i">EVN</tspan></text>
<text class="a" x="1754" y="1040">code*: CD CWE [1..1] &lt; <tspan class="i">D:MedicationObservationType</tspan></text>
<text class="a" x="1754" y="1053"> (Appearance Characteristic Type)</text>
<text class="a" x="1754" y="1065.5">text: ED [0..1] (Appearance Characteristic Text)</text>
<text class="a" x="1754" y="1078">value*: ANY CWE [0..1] &lt; <tspan class="i">ObservationValue</tspan></text>
<text class="a" x="1754" y="1091"> (Appearance Characteristic Value)</text>
</g>

<g id="n-medicinemanufacturer">
<rect class="box y" x="1494" y="1155.4" width="152" height="47.6"/>
<text class="h" x="1498" y="1167">MedicineManufacturer</text>
<text class="a" x="1498" y="1186"><tspan class="b">classCode*</tspan>: &lt;= <tspan class="i">MANU</tspan></text>
</g>

<g id="n-distributedproduct">
<rect class="box y" x="1504.6" y="1292.4" width="130.4" height="47.6"/>
<text class="h" x="1508" y="1304">DistributedProduct</text>
<text class="a" x="1508" y="1323"><tspan class="b">classCode*</tspan>: &lt;= <tspan class="i">DST</tspan></text>
</g>

<g id="note-distributed">
<path class="note" d="M1707.7,1284.7 H1860 L1872,1296.7 V1354 H1707.7 Z"/>
<path d="M1860,1284.7 V1296.7 H1872" fill="none" stroke="#333" stroke-width="1"/>
<text class="n b" x="1710" y="1296.6">Note:</text>
<text class="n" x="1710" y="1309.6">This entity is the step in</text>
<text class="n" x="1710" y="1322.6">the supply chain that precedes</text>
<text class="n" x="1710" y="1335.6">the pharmacy.  This is commonly</text>
<text class="n" x="1710" y="1348">the wholesaler.</text>
</g>

<g id="n-manufacturer2">
<rect class="box hg" x="1805" y="1493" width="121" height="72"/>
<text class="h" x="1809" y="1505.5">Manufacturer</text>
</g>

<g id="n-medication">
<rect class="box y" x="499" y="875" width="123" height="821"/>
<text class="h" x="503" y="886.5">Medication</text>
<text class="a" x="503" y="905"><tspan class="b">classCode*</tspan>: &lt;= <tspan class="i">ADMM</tspan></text>
</g>

<g id="n-valueditem">
<rect class="box r" x="251.7" y="1102" width="113" height="60" stroke-dasharray="3,2"/>
<text class="a" x="308" y="1116.5" text-anchor="middle"><tspan class="b">CMET:</tspan> (ACT)</text>
<text class="a b" x="308" y="1129" text-anchor="middle">A_ValuedItem</text>
<text class="a b" x="308" y="1141.7" text-anchor="middle">[identified]</text>
<text class="sm" x="308" y="1154" text-anchor="middle">(COCT_MT440001UV)</text>
</g>

<g id="n-subjectof5">
<polygon class="box c" points="364.8,1121 487,1121 498,1135.5 487,1150 364.8,1150"/>
<text class="h" x="369" y="1135.5">subjectOf5</text>
<text class="a" x="369" y="1148"><tspan class="b">typeCode*</tspan>: =SBJ</text>
</g>

<g id="n-med-subjectof2">
<polygon class="box c" points="622,1175.5 631.7,1161 843,1161 843,1190 631.7,1190"/>
<text class="h" x="639" y="1175.5">subjectOf2</text>
<text class="a" x="639" y="1188"><tspan class="b">typeCode*</tspan>: &lt;= <tspan class="i">SBJ</tspan></text>
</g>
<g id="n-med-approval">
<rect class="box hr" x="843" y="1143.5" width="74.6" height="38.5"/>
<text class="h" x="847" y="1155">Approval</text>
</g>
<g id="n-med-subjectof1">
<polygon class="box c" points="622,1219.9 631.7,1205.4 843,1205.4 843,1234.4 631.7,1234.4"/>
<text class="h" x="639" y="1220">subjectOf1</text>
<text class="a" x="639" y="1232.3"><tspan class="b">typeCode*</tspan>: &lt;= <tspan class="i">SBJ</tspan></text>
</g>
<g id="n-med-policy">
<rect class="box hr" x="843" y="1201" width="105" height="38"/>
<text class="h" x="847" y="1212.5">Policy</text>
</g>
<g id="n-med-subjectof3">
<polygon class="box c" points="622,1280.1 631.7,1265.6 843,1265.6 843,1294.6 631.7,1294.6"/>
<text class="h" x="639" y="1280">subjectOf3</text>
<text class="a" x="639" y="1292.7"><tspan class="b">typeCode*</tspan>: &lt;= <tspan class="i">SBJ</tspan></text>
</g>
<g id="n-med-characteristic">
<rect class="box hr" x="843" y="1258.4" width="119.4" height="38.3"/>
<text class="h" x="847" y="1270">Characteristic</text>
</g>
<g id="n-med-subjectof4">
<polygon class="box c" points="622,1590.5 631.7,1576 814,1576 814,1605 631.7,1605"/>
<text class="h" x="639" y="1590.5">subjectOf4</text>
<text class="a" x="639" y="1603.5"><tspan class="b">typeCode*</tspan>: &lt;= <tspan class="i">SBJ</tspan></text>
</g>

<g id="n-observationgoal">
<rect class="box r" x="814" y="1522" width="217" height="87"/>
<text class="h" x="818" y="1533.5">ObservationGoal</text>
<text class="a" x="818" y="1552"><tspan class="b">classCode*</tspan>: &lt;= <tspan class="i">OBS</tspan></text>
<text class="a" x="818" y="1565"><tspan class="b">moodCode*</tspan>: &lt;= <tspan class="i">GOL</tspan></text>
<text class="a" x="818" y="1578">code: CD CWE [0..1] &lt; <tspan class="i">D:ActCode</tspan> (Goal)</text>
<text class="a" x="818" y="1590.5">text: ED [0..1]</text>
<text class="a" x="818" y="1603.5">value: ANY CWE [0..1] &lt; <tspan class="i">ObservationValue</tspan></text>
</g>

<g id="note-goal">
<path class="note" d="M1107.4,1527 H1285.5 L1297.5,1539 V1609 H1107.4 Z"/>
<path d="M1285.5,1527 V1539 H1297.5" fill="none" stroke="#333" stroke-width="1"/>
<text class="n b" x="1110" y="1539">Note:</text>
<text class="n" x="1110" y="1552">Enables statement of any desired</text>
<text class="n" x="1110" y="1565">characteristic of an extemparaneous</text>
<text class="n" x="1110" y="1578">preparation.  Achieving this can be</text>
<text class="n" x="1110" y="1590.6">indicated using the “qs” flavour of null</text>
<text class="n" x="1110" y="1603">on the strength of an ingredient.</text>
</g>

<g id="n-ingredient">
<rect class="box y" x="504.6" y="1738" width="150.4" height="62"/>
<text class="h" x="508.6" y="1750">Ingredient</text>
<text class="a" x="508.6" y="1768.8"><tspan class="b">classCode*</tspan>: &lt;= <tspan class="i">INGR</tspan></text>
<text class="a" x="508.6" y="1781.5">negationInd: "false"</text>
<text class="a" x="508.6" y="1794.8">quantity: RTO&lt;PQ,PQ&gt; [0..1]</text>
</g>

<g id="note-walkthrough">
<path class="note" d="M169,1847 H339 L351,1859 V1917 H169 Z"/>
<path d="M339,1847 V1859 H351" fill="none" stroke="#333" stroke-width="1"/>
<text class="n b" x="171" y="1859.3">Note:</text>
<text class="n" x="171" y="1872.6">In the walkthroughs we should</text>
<text class="n" x="171" y="1885.6">point out that there could be active</text>
<text class="n" x="171" y="1898.6">and inactive components separated</text>
<text class="n" x="171" y="1911.3">out in an instance</text>
</g>

<g id="note-quantity">
<path class="note" d="M460.6,1873 H796.8 L808.8,1885 V1940 H460.6 Z"/>
<path d="M796.8,1873 V1885 H808.8" fill="none" stroke="#333" stroke-width="1"/>
<text class="n b" x="463" y="1885.3">Note:</text>
<text class="n" x="463" y="1897.6">If ingredient is present in an unknown quantity leave the quantity as null.</text>
<text class="n" x="463" y="1911.6">Where it is a “trace” use special “trace” form of null.  Where the quantity</text>
<text class="n" x="463" y="1924.6">is to be adjusted to achieve a final value use “qs” flavour of null.</text>
</g>

<g id="note-substance">
<path class="note" d="M996.9,1713 H1122 L1134,1725 V1796 H996.9 Z"/>
<path d="M1122,1713 V1725 H1134" fill="none" stroke="#333" stroke-width="1"/>
<text class="n b" x="999" y="1726.3">Note:</text>
<text class="n" x="999" y="1738.6">1) Change name to allow</text>
<text class="n" x="999" y="1751.3">more structured names</text>
<text class="n" x="999" y="1764.3">(go from TN to EN)</text>
<text class="n" x="999" y="1776.6">2) Change from 0..* to 0..1</text>
<text class="n" x="999" y="1789.6">3) Add vocabulary for code</text>
</g>

<g id="n-substance">
<rect class="box g" x="1012" y="1821.7" width="288" height="126.3"/>
<text class="h" x="1016" y="1833">Substance</text>
<text class="a" x="1016" y="1851.5"><tspan class="b">classCode*</tspan>: &lt;= <tspan class="i">MMAT</tspan></text>
<text class="a" x="1016" y="1864.3"><tspan class="b">determinerCode*</tspan>: &lt; <tspan class="i">V:EntityDeterminer</tspan></text>
<text class="a" x="1016" y="1877">code*: CD CWE [0..1] &lt; <tspan class="i">D:MaterialEntityClassType</tspan></text>
<text class="a" x="1016" y="1889.8">(Substance Code)</text>
<text class="a" x="1016" y="1902.6">name: DSET&lt;TN&gt; [0..*] (Substance Name)</text>
<text class="a" x="1016" y="1915.4">desc: ED [0..1] (Substance Description)</text>
<text class="a" x="1016" y="1928.2">lotNumberText: ST.SIMPLE [0..1] (Substance Lot/Batch</text>
<text class="a" x="1016" y="1941">Number)</text>
</g>

<g id="n-substancemanufacturer">
<rect class="box y" x="1489" y="1787" width="162.4" height="47"/>
<text class="h" x="1493" y="1798.8">SubstanceManufacturer</text>
<text class="a" x="1493" y="1817"><tspan class="b">classCode*</tspan>: &lt;= <tspan class="i">MANU</tspan></text>
</g>

<g id="n-subingredient">
<rect class="box y" x="1492" y="1868" width="149.4" height="62"/>
<text class="h" x="1496" y="1880">SubIngredient</text>
<text class="a" x="1496" y="1899"><tspan class="b">classCode*</tspan>: &lt;= <tspan class="i">INGR</tspan></text>
<text class="a" x="1496" y="1912">negationInd: "false"</text>
<text class="a" x="1496" y="1924">quantity: RTO&lt;PQ,PQ&gt; [0..1]</text>
</g>
</svg>
